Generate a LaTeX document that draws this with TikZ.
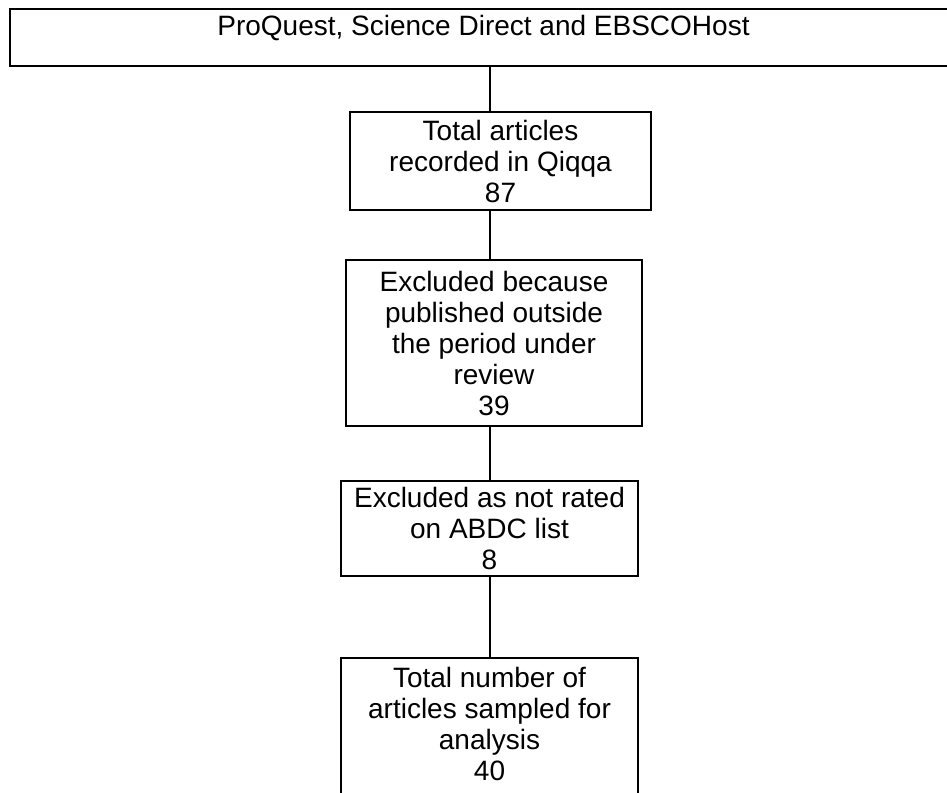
\documentclass[tikz,border=0pt]{standalone}
\usepackage{fontspec}
\setmainfont{Liberation Sans}
\begin{document}
\begin{tikzpicture}[x=1pt,y=-1pt,
  box/.style={draw=black, line width=2pt, rectangle, inner sep=0pt, align=center,
    font=\fontsize{28}{31}\selectfont},
  conn/.style={draw=black, line width=2pt}]
\useasboundingbox (0,0) rectangle (947,792);
\clip (0,0) rectangle (947,792);
\node[box, minimum width=947pt, minimum height=57pt, text depth=24.6pt] (src) at (483.5,37.5)
  {ProQuest, Science Direct and EBSCOHost};
\node[box, minimum width=301pt, minimum height=98pt] (n1) at (500.5,161)
  {Total articles\\recorded in Qiqqa\\87};
\node[box, minimum width=296pt, minimum height=166pt] (n2) at (494,343)
  {Excluded because\\published outside\\the period under\\review\\39};
\node[box, minimum width=297pt, minimum height=95pt] (n3) at (489.5,528.5)
  {Excluded as not rated\\on ABDC list\\8};
\node[box, minimum width=297pt, minimum height=140pt, text depth=7.4pt] (n4) at (489.5,728)
  {Total number of\\articles sampled for\\analysis\\40};
\coordinate (ax) at (490,0);
\draw[conn] (src.south -| ax) -- (n1.north -| ax);
\draw[conn] (n1.south -| ax) -- (n2.north -| ax);
\draw[conn] (n2.south -| ax) -- (n3.north -| ax);
\draw[conn] (n3.south -| ax) -- (n4.north -| ax);
\end{tikzpicture}
\end{document}
